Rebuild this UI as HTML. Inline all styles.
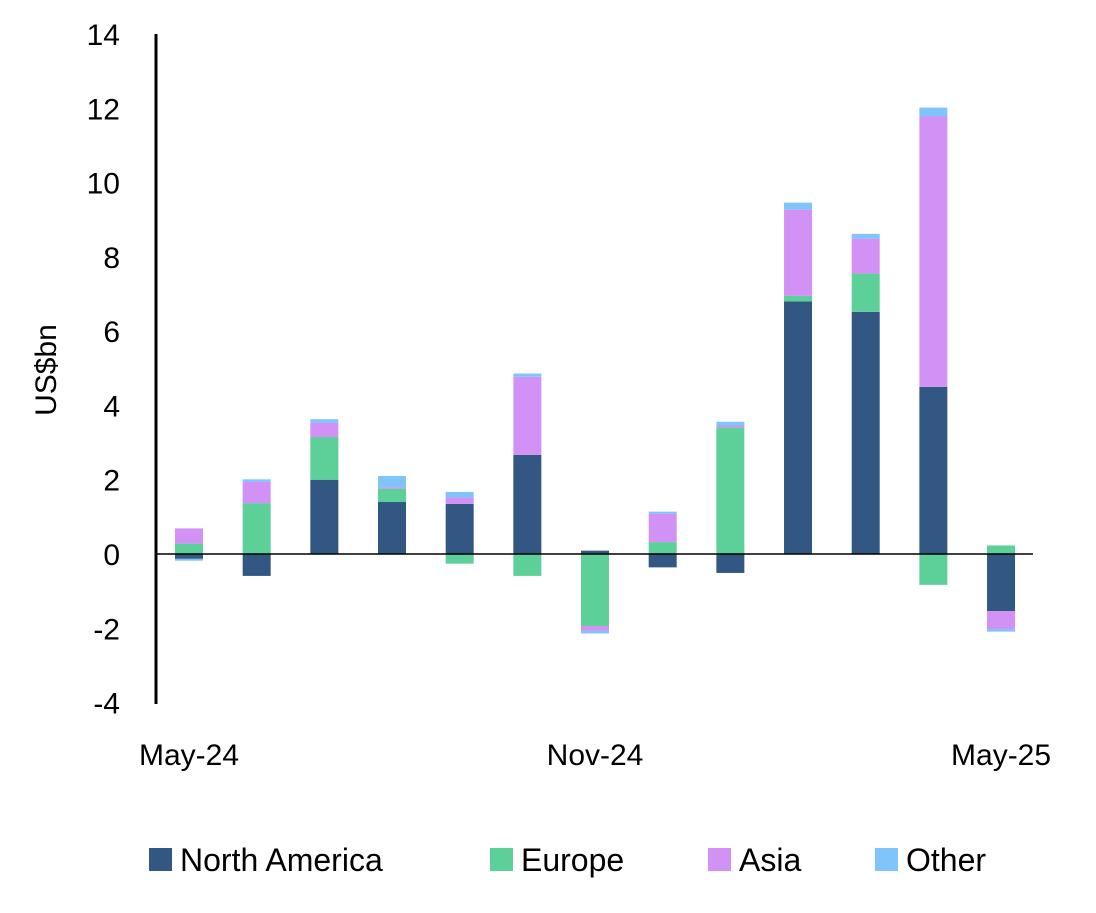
<!DOCTYPE html>
<html><head><meta charset="utf-8"><style>
html,body{margin:0;padding:0;background:#fff;}
svg text{font-family:"Liberation Sans",sans-serif;fill:#000;}
</style></head><body>
<svg width="1096" height="908" viewBox="0 0 1096 908">
<g id="bars"></g>
<line x1="155" y1="554" x2="1033" y2="554" stroke="#000" stroke-width="1.5"/>
<line x1="156" y1="34" x2="156" y2="704" stroke="#000" stroke-width="3"/>
<g id="yticks"></g>
<text x="56" y="370" font-size="30" text-anchor="middle" transform="rotate(-90 56 370)">US$bn</text>
<g id="xticks"></g>
<g id="legend"></g>
</svg>
<script>
const categories=["May-24","Jun-24","Jul-24","Aug-24","Sep-24","Oct-24","Nov-24","Dec-24","Jan-25","Feb-25","Mar-25","Apr-25","May-25"];
const northAmerica=[-0.13,-0.59,2.0,1.4,1.35,2.67,0.09,-0.36,-0.51,6.8,6.52,4.5,-1.54];
const europe=[0.28,1.37,1.15,0.36,-0.26,-0.59,-1.94,0.32,3.41,0.15,1.03,-0.83,0.23];
const asia=[0.41,0.57,0.38,0.04,0.17,2.1,-0.13,0.76,0.05,2.32,0.94,7.28,-0.48];
const other=[-0.05,0.07,0.1,0.3,0.15,0.09,-0.07,0.06,0.1,0.19,0.13,0.24,-0.07];
const yTicks=[14,12,10,8,6,4,2,0,-2,-4];
const xLabelIdx=[0,6,12];
const seriesNames=["North America","Europe","Asia","Other"];
const seriesColors=["#315782","#5dd09a","#d191f5","#80c4f9"];
const NS="http://www.w3.org/2000/svg";
const y=v=>554-v*37.14;
const x=i=>189+i*67.67;
const bw=28;
const series=[northAmerica,europe,asia,other];
const gb=document.getElementById('bars');
categories.forEach((c,i)=>{
  let pos=0,neg=0;
  series.forEach((s,k)=>{
    const v=s[i];let y0,y1;
    if(v>=0){y0=pos;y1=pos+v;pos=y1;}else{y0=neg;y1=neg+v;neg=y1;}
    const r=document.createElementNS(NS,'rect');
    r.setAttribute('x',x(i)-bw/2);
    r.setAttribute('y',Math.min(y(y0),y(y1)));
    r.setAttribute('width',bw);
    r.setAttribute('height',Math.abs(y(y1)-y(y0)));
    r.setAttribute('fill',seriesColors[k]);
    
    
    gb.appendChild(r);
  });
});
const gy=document.getElementById('yticks');
yTicks.forEach(t=>{
  const e=document.createElementNS(NS,'text');
  e.setAttribute('x',120);e.setAttribute('y',y(t)+11);
  e.setAttribute('font-size','30');e.setAttribute('text-anchor','end');
  e.textContent=t;
  
  
  gy.appendChild(e);
});
const gx=document.getElementById('xticks');
xLabelIdx.forEach(i=>{
  const e=document.createElementNS(NS,'text');
  e.setAttribute('x',x(i));e.setAttribute('y',765);
  e.setAttribute('font-size','30');e.setAttribute('text-anchor','middle');
  e.textContent=categories[i];
  
  
  gx.appendChild(e);
});
const gl=document.getElementById('legend');
const lx=[149,490,708,875];
seriesNames.forEach((n,k)=>{
  const g=document.createElementNS(NS,'g');
  
  
  const r=document.createElementNS(NS,'rect');
  r.setAttribute('x',lx[k]);r.setAttribute('y',848);r.setAttribute('width',23);r.setAttribute('height',23);
  r.setAttribute('fill',seriesColors[k]);
  
  
  const t=document.createElementNS(NS,'text');
  t.setAttribute('x',lx[k]+31);t.setAttribute('y',871);t.setAttribute('font-size','32');
  t.textContent=n;
  
  
  g.appendChild(r);g.appendChild(t);gl.appendChild(g);
});
</script>
</body></html>
